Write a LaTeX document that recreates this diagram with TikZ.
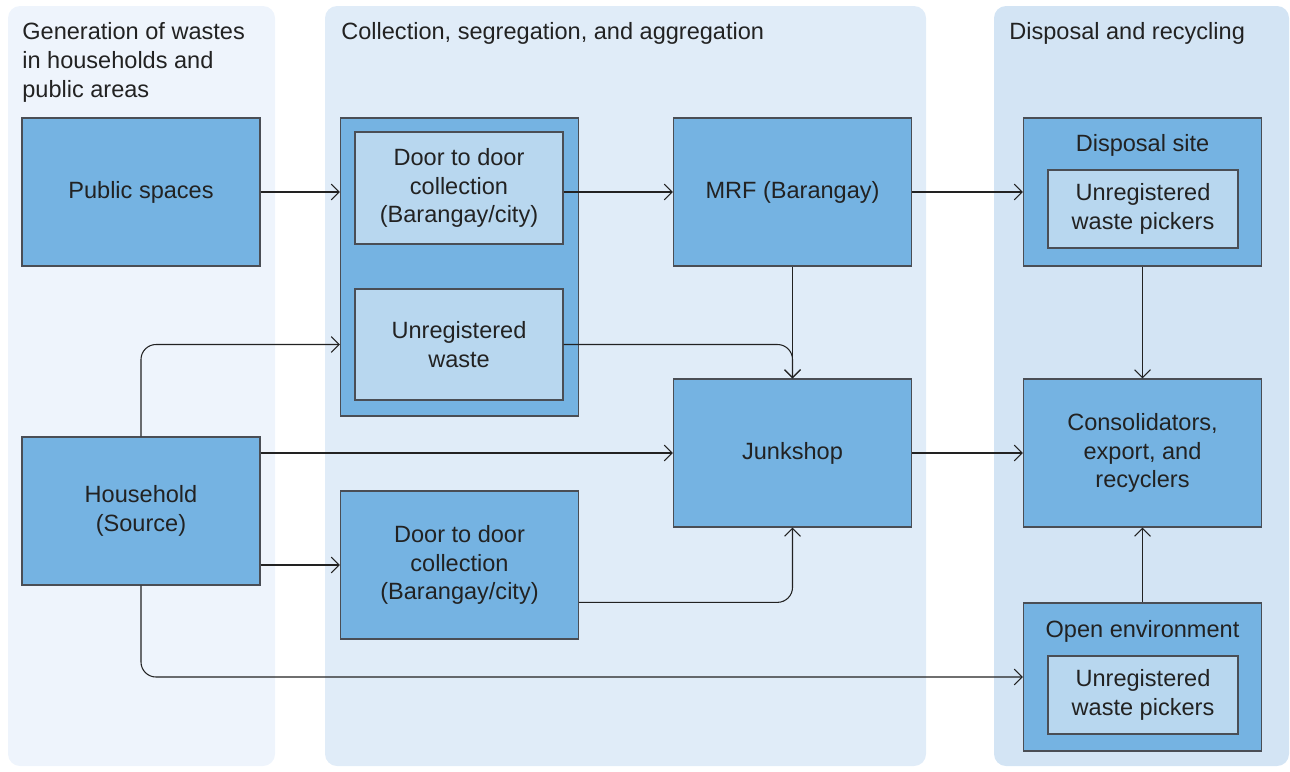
\documentclass[tikz,border=0pt]{standalone}
\usepackage{fontspec}
\setmainfont{Liberation Sans}
\usetikzlibrary{arrows.meta, calc}

\definecolor{paneA}{HTML}{EEF4FC}
\definecolor{paneB}{HTML}{E0ECF8}
\definecolor{paneC}{HTML}{D3E4F4}
\definecolor{boxblue}{HTML}{75B3E2}
\definecolor{boxlight}{HTML}{B8D7EF}
\definecolor{inkgray}{HTML}{222222}
\definecolor{edgegray}{HTML}{4A4E55}

\tikzset{
	pane/.style={rounded corners=12*0.2mm, draw=none},
	stage/.style={draw=edgegray, line width=0.8pt, fill=boxblue, text=inkgray,
		align=center, minimum width=4.76cm, minimum height=2.96cm, inner sep=0pt,
		execute at begin node=\vspace*{3pt}},
	sub/.style={draw=edgegray, line width=0.8pt, fill=boxlight, text=inkgray,
		align=center, inner sep=0pt, execute at begin node=\vspace*{3pt}},
	head/.style={text=inkgray, align=left, anchor=north west, inner sep=0pt},
	flow/.style={draw=inkgray, line width=0.6pt, rounded corners=0.3cm,
		-{Straight Barb[length=4.5pt, width=9pt]}},
}

\begin{document}
\begin{tikzpicture}[x=0.02cm, y=-0.02cm, font=\fontsize{13.4}{16.4}\selectfont]
		\useasboundingbox (0,0) rectangle (1290,771);
		\fill[pane, paneA] (8,6) rectangle (275,766);
		\fill[pane, paneB] (325,6) rectangle (926,766);
		\fill[pane, paneC] (994,6) rectangle (1289,766);
		\node[head] (hgen) at (22,22) {Generation of wastes\\in households and\\public areas};
		\node[head] (hcol) at (341,22) {Collection, segregation, and aggregation};
		\node[head] (hdis) at (1009,22) {Disposal and recycling};

		% generation
		\node[stage] (ps) at (141,192) {Public spaces};
		\node[stage] (hh) at (141,511) {Household\\(Source)};

		% collection
		\node[stage, minimum height=5.96cm] (coll) at (459.5,267) {};
		\node[sub, minimum width=4.16cm, minimum height=2.24cm] (d1) at (459,188)
		{Door to door\\collection\\(Barangay/city)};
		\node[sub, minimum width=4.16cm, minimum height=2.22cm] (uw) at (459,344.5)
		{Unregistered\\waste};
		\node[stage] (d2) at (459.5,565) {Door to door\\collection\\(Barangay/city)};
		\node[stage] (mrf) at (792.5,192) {MRF (Barangay)};
		\node[stage] (js) at (792.5,453) {Junkshop};

		% disposal
		\node[stage] (ds) at (1142.5,192) {};
		\node[text=inkgray] (dslab) at (1142.5,145) {Disposal site};
		\node[sub, minimum width=3.8cm, minimum height=1.56cm] (dsp) at (1143,209)
		{Unregistered\\waste pickers};
		\node[stage] (cons) at (1142.5,453) {Consolidators,\\export, and\\recyclers};
		\node[stage] (oe) at (1142.5,677) {};
		\node[text=inkgray] (oelab) at (1142.5,631) {Open environment};
		\node[sub, minimum width=3.8cm, minimum height=1.56cm] (oep) at (1143,695)
		{Unregistered\\waste pickers};

		\draw[flow] (ps.east) -- (ps.east -| coll.west);
		\draw[flow] (mrf.west -| d1.east) -- (mrf.west);
		\draw[flow] (mrf.east) -- (ds.west);
		\draw[flow] (mrf.south) -- (js.north);
		\draw[flow] (uw.east) -| (js.north);
		\draw[flow] (hh.north) |- (coll.west |- uw.east);
		\draw[flow] (hh.east |- js.west) -- (js.west);
		\draw[flow] (hh.east |- d2.west) -- (d2.west);
		\draw[flow] ($(d2.east)!0.5!(d2.south east)$) -| (js.south);
		\draw[flow] (hh.south) |- (oe.west);
		\draw[flow] (js.east) -- (cons.west);
		\draw[flow] (ds.south) -- (cons.north);
		\draw[flow] (oe.north) -- (cons.south);
	\end{tikzpicture}
\end{document}
